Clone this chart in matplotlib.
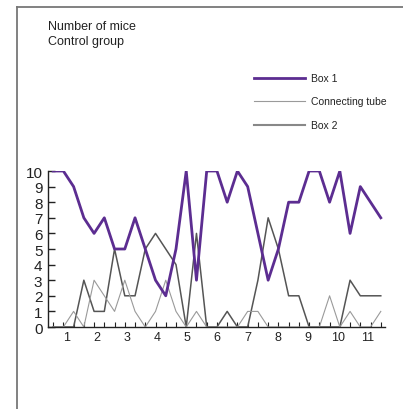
import numpy as np
import matplotlib
matplotlib.use("Agg")
import matplotlib.pyplot as plt
from matplotlib.lines import Line2D

plt.rcParams['font.family'] = ['Liberation Sans', 'DejaVu Sans']

# Data: number of mice at each time point (3 per day)
box1 = [10, 10, 9, 7, 6, 7, 5, 5, 7, 5, 3, 2, 5, 10, 3, 10, 10, 8, 10, 9, 6, 3, 5, 8, 8, 10, 10, 8, 10, 6, 9, 8, 7]
tube = [0, 0, 1, 0, 3, 2, 1, 3, 1, 0, 1, 3, 1, 0, 1, 0, 0, 0, 0, 1, 1, 0, 0, 0, 0, 0, 0, 2, 0, 1, 0, 0, 1]
box2 = [0, 0, 0, 3, 1, 1, 5, 2, 2, 5, 6, 5, 4, 0, 6, 0, 0, 1, 0, 0, 3, 7, 5, 2, 2, 0, 0, 0, 0, 3, 2, 2, 2]
day_labels = ['1', '2', '3', '4', '5', '6', '7', '8', '9', '10', '11']
series_names = ['Box 1', 'Connecting tube', 'Box 2']
title_lines = ['Number of mice', 'Control group']

x = 0.55 + np.arange(len(box1)) * 0.34

c_box1 = '#5c2d91'
c_tube = '#9a9a9a'
c_box2 = '#555555'

fig = plt.figure(figsize=(4.03, 4.10), dpi=100)
ax = fig.add_axes([48/403, 1-328/410, (385-48)/403, (328-172)/410])

ax.plot(x, box2, color=c_box2, lw=1.1, zorder=2)
ax.plot(x, tube, color=c_tube, lw=0.8, zorder=2)
ax.plot(x, box1, color=c_box1, lw=2.0, zorder=3)

ax.set_xlim(0.38, 11.57)
ax.set_ylim(0, 10)
for s in ['top', 'right']:
    ax.spines[s].set_visible(False)
for s in ['left', 'bottom']:
    ax.spines[s].set_color('#222222')
    ax.spines[s].set_linewidth(1.0)

ax.set_yticks(range(0, 11))
ax.set_yticklabels([str(i) for i in range(0, 11)], fontsize=11)
ax.tick_params(axis='y', direction='in', length=5, width=1, pad=4, colors='#222222')
ax.set_xticks(range(1, 12))
ax.set_xticklabels(day_labels, fontsize=9)
ax.tick_params(axis='x', which='major', length=0, pad=3, colors='#222222')
ax.set_xticks(x, minor=True)
ax.tick_params(axis='x', which='minor', direction='in', length=3.5, width=0.8, color='#222222')

# Legend drawn manually
leg_y = [1-79.3/410, 1-102.3/410, 1-125.7/410]
leg_styles = [(c_box1, 2.0), (c_tube, 0.8), ('#888888', 1.5)]
for name, yy, (col, lw) in zip(series_names, leg_y, leg_styles):
    fig.add_artist(Line2D([254/403, 305/403], [yy, yy], color=col, lw=lw))
    fig.text(311/403, yy, name, fontsize=7.5, va='center', ha='left', color='#222222')

fig.text(47.7/403, 1-26.7/410, title_lines[0], fontsize=9, va='center', ha='left', color='#222222')
fig.text(47.7/403, 1-42.3/410, title_lines[1], fontsize=9, va='center', ha='left', color='#222222')

# Frame lines
fig.add_artist(Line2D([17/403, 1.0], [1-8/410, 1-8/410], color='#777777', lw=1.3))
fig.add_artist(Line2D([17/403, 17/403], [1-8/410, 0], color='#777777', lw=1.3))

fig.savefig('out.png', dpi=100)
